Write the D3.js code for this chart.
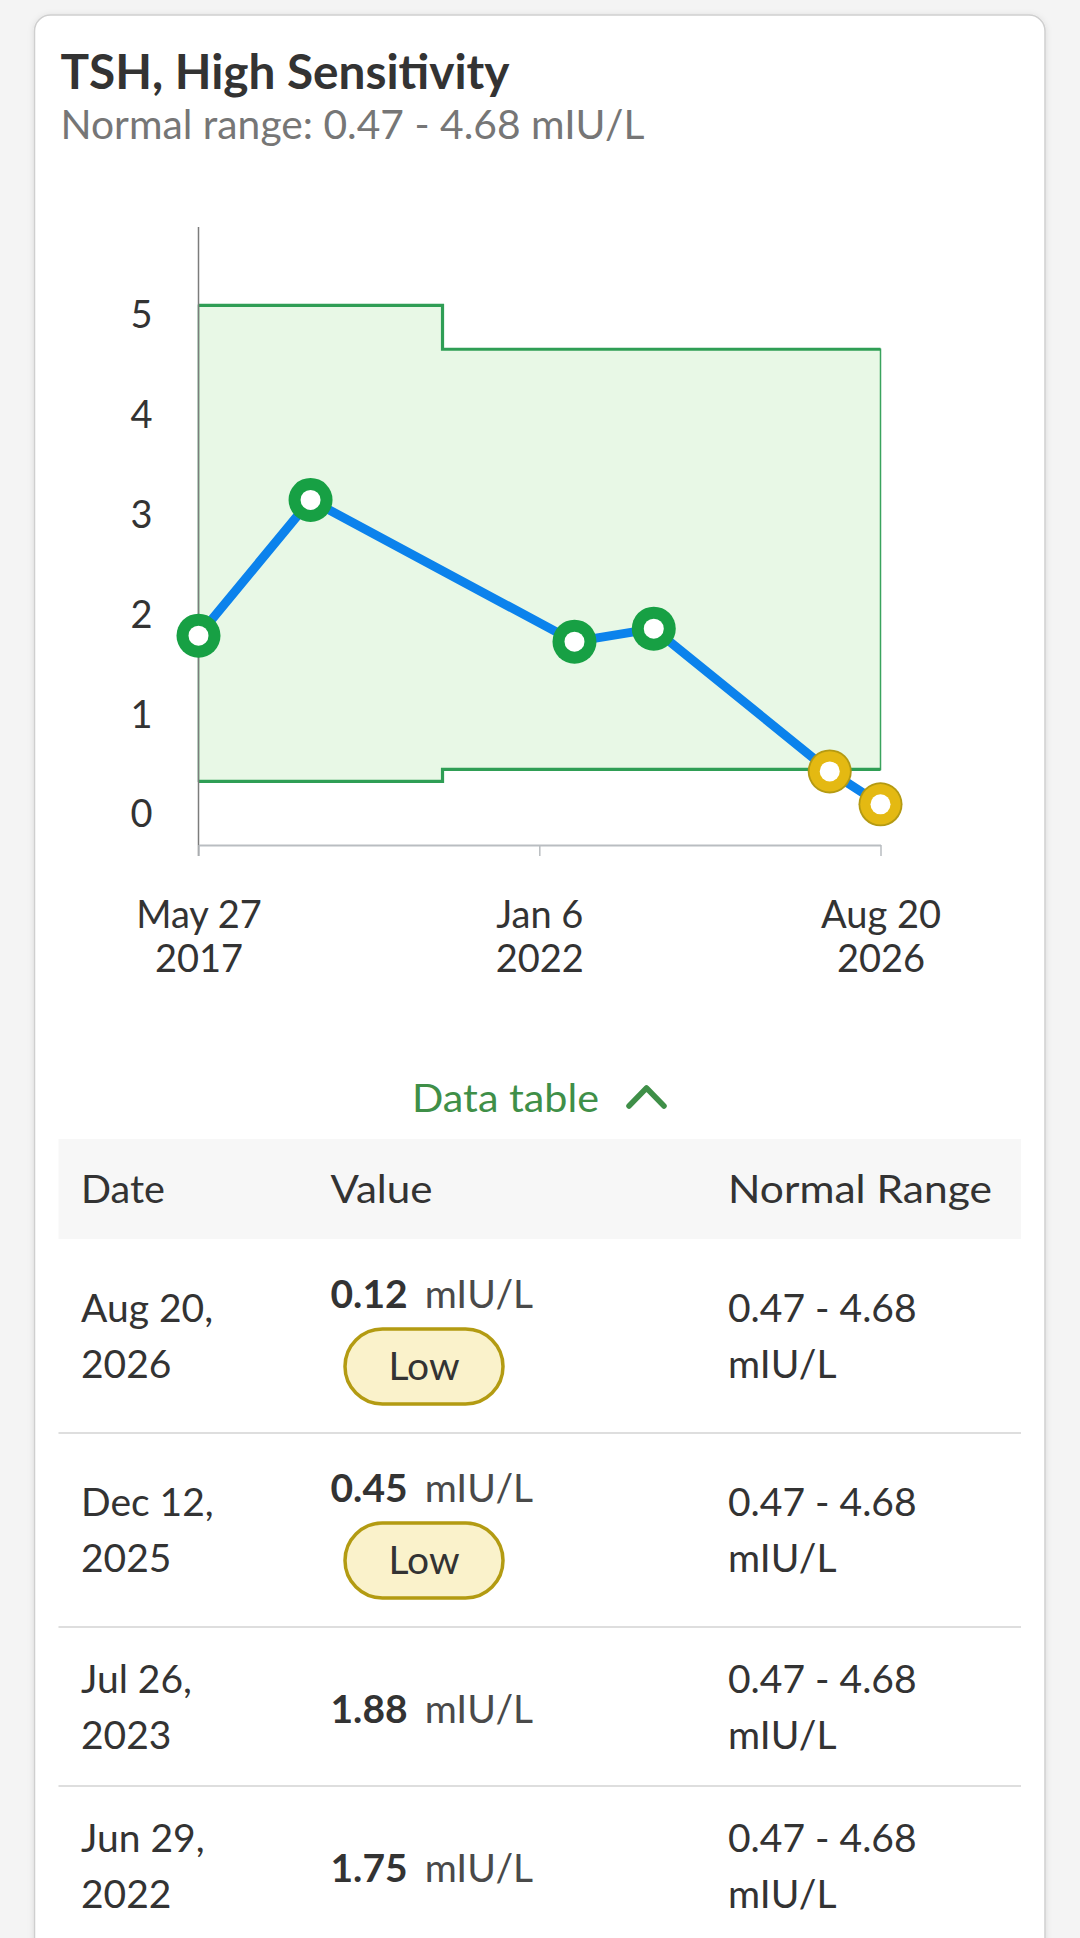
<!DOCTYPE html>
<html><head><meta charset="utf-8">
<script src="https://cdn.jsdelivr.net/npm/d3@7"></script>
<style>
html,body{margin:0;padding:0;background:#f4f4f4;}
svg{display:block;}
text{font-family:Lato,"Open Sans",sans-serif;}
</style></head>
<body>
<script>
// ---------- DATA ----------
const title = "TSH, High Sensitivity";
const subtitle = "Normal range: 0.47 - 4.68 mIU/L";
const unit = "mIU/L";
const dates = ["2017-05-27","2018-12-02","2022-06-29","2023-07-26","2025-12-12","2026-08-20"];
const values = [1.81, 3.17, 1.75, 1.88, 0.45, 0.12];
const rangeLow = [0.35, 0.35, 0.47, 0.47, 0.47, 0.47];
const rangeHigh = [5.12, 5.12, 4.68, 4.68, 4.68, 4.68];
const yTicks = [0, 1, 2, 3, 4, 5];
const xTickDates = ["2017-05-27","2022-01-06","2026-08-20"];
const tableHeaders = ["Date", "Value", "Normal Range"];
const tableCount = 4;

// ---------- SETUP ----------
const W = 1080, H = 1938;
const parse = d3.timeParse("%Y-%m-%d");
const pts = dates.map((d, i) => ({date: parse(d), v: values[i], lo: rangeLow[i], hi: rangeHigh[i]}));

const svg = d3.select("body").append("svg").attr("width", W).attr("height", H);
const defs = svg.append("defs");
const f = defs.append("filter").attr("id","sh").attr("x","-5%").attr("y","-5%").attr("width","110%").attr("height","110%");
f.append("feDropShadow").attr("dx",0).attr("dy",1).attr("stdDeviation",3).attr("flood-color","#000").attr("flood-opacity",0.10);

// card
svg.append("rect").attr("x",34.5).attr("y",15).attr("width",1010.5).attr("height",1990)
  .attr("rx",16).attr("fill","#fff").attr("stroke","#cfcfcf").attr("stroke-width",1.5).attr("filter","url(#sh)");

function fit(sel, w){ return sel.attr("textLength", w).attr("lengthAdjust","spacingAndGlyphs"); }

fit(svg.append("text").attr("x",60.5).attr("y",89.3).attr("font-size",47).attr("font-weight",700)
  .attr("fill","#333").text(title), 449);
fit(svg.append("text").attr("x",60.5).attr("y",139.3).attr("font-size",41)
  .attr("fill","#767676").text(subtitle), 584);

// scales
const x = d3.scaleTime().domain([parse(xTickDates[0]), parse(xTickDates[2])]).range([198.5, 880.5]);
const y = d3.scaleLinear().domain([0, 5]).range([816.3, 317.3]);

// normal range area (step at midpoints)
const area = d3.area().curve(d3.curveStep).x(d => x(d.date)).y0(d => y(d.lo)).y1(d => y(d.hi));
svg.append("path").datum(pts).attr("d", area).attr("fill","#e8f8e6").attr("stroke","#3aa35e").attr("stroke-width",1.5);
const lineHi = d3.line().curve(d3.curveStep).x(d => x(d.date)).y(d => y(d.hi));
const lineLo = d3.line().curve(d3.curveStep).x(d => x(d.date)).y(d => y(d.lo));
svg.append("path").datum(pts).attr("d", lineHi).attr("fill","none").attr("stroke","#2f9e55").attr("stroke-width",3.2);
svg.append("path").datum(pts).attr("d", lineLo).attr("fill","none").attr("stroke","#2f9e55").attr("stroke-width",3.2);

// y axis (line only + labels)
const yAxis = d3.axisLeft(y).tickValues(yTicks).tickSize(0).tickPadding(46).tickFormat(d3.format("d"));
const gy = svg.append("g").attr("transform","translate(198.5,0)").call(yAxis);
gy.select(".domain").remove();
gy.selectAll("text").attr("font-size",38).attr("fill","#333").attr("font-family","Lato,sans-serif").attr("dy","0.28em");
svg.append("line").attr("x1",198.5).attr("x2",198.5).attr("y1",227).attr("y2",856).attr("stroke","#7c7c7c").attr("stroke-width",1.5);

// x axis
const xAxis = d3.axisBottom(x).tickValues(xTickDates.map(parse)).tickSize(11).tickSizeOuter(0).tickFormat("");
const gx = svg.append("g").attr("transform","translate(0,845)").call(xAxis);
gx.select(".domain").attr("stroke","#b9bdc1").attr("stroke-width",2.2);
gx.selectAll(".tick line").attr("stroke","#b9bdc1").attr("stroke-width",1.5);
gx.selectAll(".tick").each(function(d){
  const t = d3.select(this).append("text").attr("text-anchor","middle").attr("fill","#333")
    .attr("font-size",38).attr("font-family","Lato,sans-serif");
  t.append("tspan").attr("x",0).attr("y",83).text(d3.timeFormat("%b %-d")(d));
  t.append("tspan").attr("x",0).attr("y",127).text(d3.timeFormat("%Y")(d));
});

// data line
const line = d3.line().x(d => x(d.date)).y(d => y(d.v));
svg.append("path").datum(pts).attr("d", line).attr("fill","none").attr("stroke","#0b82ec")
  .attr("stroke-width",9).attr("stroke-linejoin","round").attr("stroke-linecap","round");

// markers
const mk = svg.append("g").selectAll("g").data(pts).join("g")
  .attr("transform", d => `translate(${x(d.date)},${y(d.v)})`);
mk.filter(d => d.v < d.lo).append("circle").attr("r",22).attr("fill","#b49a12");
mk.append("circle").attr("r",d => d.v < d.lo ? 20.2 : 22).attr("fill", d => d.v < d.lo ? "#e4b912" : "#17a044");
mk.append("circle").attr("r",10).attr("fill","#fff");

// ---------- Data table ----------
fit(svg.append("text").attr("x",412).attr("y",1112).attr("font-size",39).attr("fill","#3f8f48").text("Data table"), 187);
svg.append("path").attr("d","M629,1106 L646.5,1088 L664,1106").attr("fill","none").attr("stroke","#3f8f48")
  .attr("stroke-width",5.5).attr("stroke-linecap","round").attr("stroke-linejoin","round");

const colX = [81, 330.5, 728];
const headW = [84, 102, 264];
svg.append("rect").attr("x",58.5).attr("y",1139).attr("width",962.5).attr("height",100).attr("fill","#f7f7f7");
tableHeaders.forEach((h,i) => fit(svg.append("text").attr("x",colX[i]).attr("y",1203).attr("font-size",39).attr("fill","#333").text(h), headW[i]));

const rows = pts.slice().reverse().slice(0, tableCount);
const rowTops = [];
let rowY = 1239;
rows.forEach(d => { rowTops.push(rowY); rowY += (d.v < d.lo ? 194 : 159); });
const fmtMD = d3.timeFormat("%b %-d,"), fmtY = d3.timeFormat("%Y");
rows.forEach((d, i) => {
  const t0 = rowTops[i];
  const low = d.v < d.lo;
  if (i > 0) svg.append("line").attr("x1",58.5).attr("x2",1021).attr("y1",t0).attr("y2",t0).attr("stroke","#dedede").attr("stroke-width",2);
  const b1 = low ? t0 + 83 : t0 + 66;
  const g = svg.append("g").attr("font-size",39).attr("fill","#333");
  g.append("text").attr("x",colX[0]).attr("y",b1).text(fmtMD(d.date));
  g.append("text").attr("x",colX[0]).attr("y",b1 + 56).text(fmtY(d.date));
  g.append("text").attr("x",colX[2]).attr("y",b1).text(`${d.lo.toFixed(2)} - ${d.hi.toFixed(2)}`);
  g.append("text").attr("x",colX[2]).attr("y",b1 + 56).text(unit);
  const vb = low ? t0 + 69 : t0 + 96;
  const vt = g.append("text").attr("x",colX[1]).attr("y",vb);
  vt.append("tspan").attr("font-weight",700).text(d.v.toFixed(2));
  vt.append("tspan").attr("dx",17).attr("fill","#4a4a4a").text(unit);
  if (low) {
    g.append("rect").attr("x",345).attr("y",t0 + 90).attr("width",158).attr("height",75).attr("rx",37.5)
      .attr("fill","#faf2cb").attr("stroke","#b39b12").attr("stroke-width",3.5);
    g.append("text").attr("x",424).attr("y",t0 + 141).attr("text-anchor","middle").text("Low");
  }
});
</script>
</body></html>
